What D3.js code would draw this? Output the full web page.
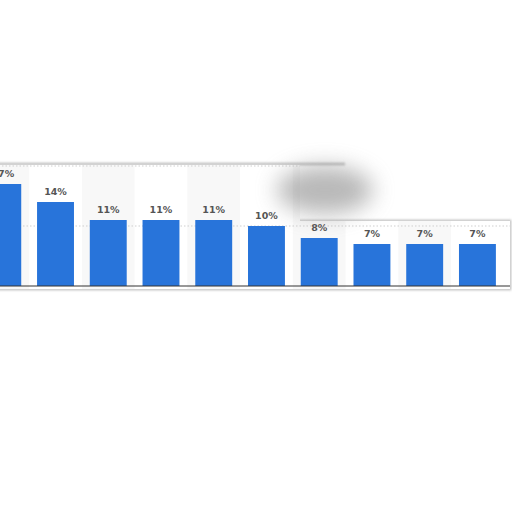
<!DOCTYPE html>
<html>
<head>
<meta charset="utf-8">
<script src="https://cdn.jsdelivr.net/npm/d3@7"></script>
<style>
  body { margin: 0; background: #fff; }
  svg { display: block; }
</style>
</head>
<body>
<svg id="chart"></svg>
<script>
let w = 512;
let h = 512;

// data
const categories = ['A', 'B', 'C', 'D', 'E', 'F', 'G', 'H', 'I', 'J'];
const shares = [17, 14, 11, 11, 11, 10, 8, 7, 7, 7];
const gridTicks = [10, 20];

const svg = d3.select('#chart')
    .attr('width', w)
    .attr('height', h);

//scales
let x = d3.scaleBand()
    .domain(categories)
    .range([-23.6, 503.8])
    .paddingInner(0.3)
    .paddingOuter(0.15);

let y = d3.scaleLinear()
    .domain([0, 20])
    .range([286, 166]);

const step = x.step();

//blur filters for the frame shadow and the smudge
const defs = svg.append('defs');
defs.append('filter').attr('id', 'soft')
    .append('feGaussianBlur').attr('stdDeviation', 1.2);
defs.append('filter').attr('id', 'smudge')
    .attr('x', '-50%').attr('y', '-50%').attr('width', '200%').attr('height', '200%')
    .append('feGaussianBlur').attr('stdDeviation', 11);

//panel outline: top steps down on the right
const panel = 'M-5,165 L300,165 L300,221 L510,221 L510,289 L-5,289 Z';
defs.append('clipPath').attr('id', 'panelClip')
    .append('path').attr('d', panel);

svg.append('path')
    .attr('d', 'M-5,164 L345,164 M278,221 L510,221 L510,289 L-5,289')
    .attr('fill', 'none')
    .attr('stroke', '#bbb')
    .attr('stroke-width', 2.5)
    .attr('filter', 'url(#soft)');

svg.append('path')
    .attr('d', panel)
    .attr('fill', '#fff');

const g = svg.append('g').attr('clip-path', 'url(#panelClip)');

//alternating column bands
g.selectAll('rect.band')
    .data(categories.filter((d, i) => i % 2 === 0))
    .enter()
    .append('rect')
        .attr('class', 'band')
        .attr('x', d => x(d) - step * 0.15)
        .attr('y', 150)
        .attr('width', step)
        .attr('height', 140)
        .attr('fill', '#f8f8f8');

//dotted grid line
g.selectAll('line.grid')
    .data(gridTicks)
    .enter()
    .append('line')
        .attr('class', 'grid')
        .attr('x1', -5).attr('x2', 510)
        .attr('y1', d => y(d)).attr('y2', d => y(d))
        .attr('stroke', '#cfcfcf')
        .attr('stroke-dasharray', '1.5,2');

//bars
g.selectAll('rect.bar')
    .data(shares)
    .enter()
    .append('rect')
        .attr('class', 'bar')
        .attr('x', (d, i) => x(categories[i]))
        .attr('y', d => y(d))
        .attr('width', x.bandwidth())
        .attr('height', d => y(0) - y(d))
        .attr('fill', '#2874da');

//value labels
svg.selectAll('text.val')
    .data(shares)
    .enter()
    .append('text')
        .attr('class', 'val')
        .attr('x', (d, i) => x(categories[i]) + x.bandwidth() / 2)
        .attr('y', d => y(d) - 7)
        .attr('text-anchor', 'middle')
        .style('font-family', 'DejaVu Sans, sans-serif')
        .style('font-weight', 'bold')
        .style('font-size', '9.5px')
        .attr('fill', '#555')
        .text(d => d + '%');

//axis line
svg.append('line')
    .attr('x1', -5).attr('x2', 510)
    .attr('y1', y(0)).attr('y2', y(0))
    .attr('stroke', '#333')
    .attr('stroke-width', 1.2);

//grey smudge over the step in the frame
svg.append('ellipse')
    .attr('cx', 325).attr('cy', 190)
    .attr('rx', 48).attr('ry', 24)
    .attr('fill', '#8a8a8a')
    .attr('opacity', 0.6)
    .attr('filter', 'url(#smudge)');
</script>
</body>
</html>
